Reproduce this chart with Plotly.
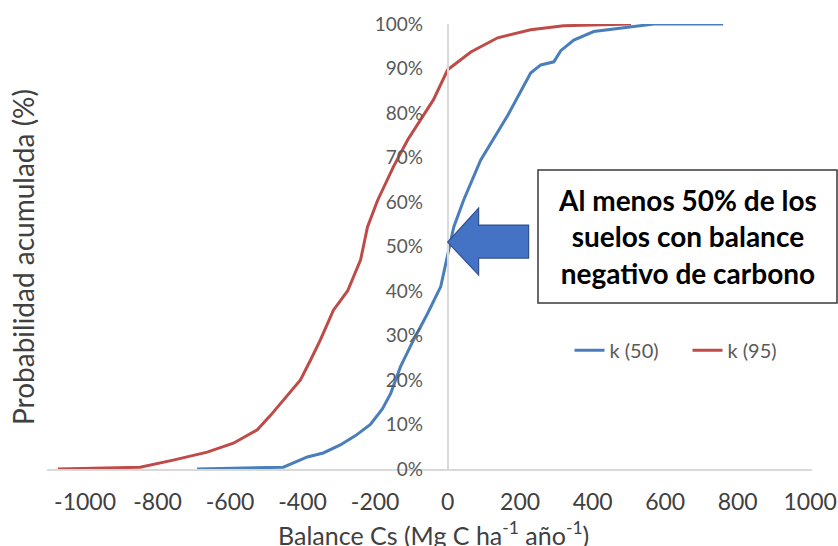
import plotly.graph_objects as go

# Cumulative probability curves of soil carbon balance (Mg C ha-1 año-1)
k50_balance = [-691, -453, -387, -343, -296, -254, -213, -180, -157, -130, -94,
               -55, -19, 0, 17, 44, 91, 166, 229, 257, 293, 312, 348, 403, 506, 569, 760]
k50_prob = [0, 0.4, 2.7, 3.6, 5.4, 7.5, 10, 13.5, 17, 23, 29,
            35, 41, 48.5, 54.4, 60.4, 69.4, 79.5, 89, 90.8, 91.5, 94, 96.4, 98.3, 99.4, 100, 100]

k95_balance = [-1075, -848, -757, -663, -591, -525, -489, -448, -406, -378, -351,
               -315, -276, -240, -221, -193, -149, -110, -75, -39, 0, 64, 138, 229, 320, 506]
k95_prob = [0, 0.4, 2, 3.8, 5.8, 8.8, 12, 16, 20, 24.5, 29,
            35.7, 40, 47, 54.4, 60.4, 68, 74, 78.4, 83, 89.7, 93.7, 96.9, 98.7, 99.6, 100]

x_ticks = list(range(-1000, 1001, 200))
x_tick_labels = [str(v) for v in x_ticks]
y_ticks = list(range(0, 101, 10))
y_tick_labels = [f"{v}%" for v in y_ticks]
x_range = [-1105, 1005]

FONT = "Lato"
BLUE = "#4a7ebb"
RED = "#be4b48"

fig = go.Figure()
fig.add_trace(go.Scatter(x=k50_balance, y=k50_prob, mode="lines", name="k (50)",
                         line=dict(color=BLUE, width=3)))
fig.add_trace(go.Scatter(x=k95_balance, y=k95_prob, mode="lines", name="k (95)",
                         line=dict(color=RED, width=3)))

# the value axis crosses the horizontal axis at x = 0
y_axis_pos = (0 - x_range[0]) / (x_range[1] - x_range[0])

fig.update_layout(
    width=838, height=546,
    margin=dict(l=47, r=26, t=24, b=77, autoexpand=False),
    paper_bgcolor="white", plot_bgcolor="white",
    font=dict(family=FONT, color="#404040"),
    showlegend=True,
    legend=dict(orientation="h", x=0.683, y=0.267, xanchor="left", yanchor="middle",
                font=dict(size=20, color="#595959"), bgcolor="rgba(0,0,0,0)",
                entrywidth=73, entrywidthmode="pixels"),
    xaxis=dict(range=x_range, tickmode="array", tickvals=x_ticks, ticktext=x_tick_labels,
               showgrid=False, zeroline=False, automargin=False,
               showline=True, linecolor="#d9d9d9", linewidth=1.5, ticks="",
               ticklabelstandoff=12,
               tickfont=dict(size=23, color="#404040")),
    yaxis=dict(range=[0, 100], tickmode="array", tickvals=y_ticks, ticktext=y_tick_labels,
               showgrid=False, zeroline=False, automargin=False,
               showline=True, linecolor="#d9d9d9", linewidth=1.5,
               anchor="free", position=y_axis_pos, side="left", ticks="",
               ticklabelstandoff=20,
               tickfont=dict(size=19, color="#595959")),
)

# axis titles
fig.add_annotation(text="Balance Cs (Mg C ha<sup>-1</sup> año<sup>-1</sup>)",
                   xref="paper", yref="paper", x=(433 - 47) / 765, y=(469 - 533) / 445,
                   xanchor="center", yanchor="middle", showarrow=False,
                   font=dict(family=FONT, size=25, color="#404040"))
fig.add_annotation(text="Probabilidad acumulada (%)", xref="paper", yref="paper",
                   x=0, y=(469 - 257) / 445, xanchor="center", yanchor="middle", xshift=-24,
                   textangle=-90, showarrow=False,
                   font=dict(family=FONT, size=28, color="#404040"))

# callout box
box_x0, box_x1 = (538 - 47) / 765, (837 - 47) / 765
box_y0, box_y1 = (469 - 303) / 445, (469 - 170) / 445
fig.add_shape(type="rect", xref="paper", yref="paper",
              x0=box_x0, x1=box_x1, y0=box_y0, y1=box_y1,
              line=dict(color="#3a3a3a", width=1.5), fillcolor="white", layer="above")
fig.add_annotation(text="<b>Al menos 50% de los<br>suelos con balance<br>negativo de carbono</b>",
                   xref="paper", yref="paper", x=(box_x0 + box_x1) / 2, y=(box_y0 + box_y1) / 2,
                   xanchor="center", yanchor="middle", showarrow=False, align="center",
                   font=dict(family=FONT, size=28, color="#000000"))

# block arrow pointing at the 50 % crossing on the zero line
arrow_path = "M 0 0 L 31 34 L 31 17 L 81 17 L 81 -16 L 31 -16 L 31 -33 Z"
fig.add_shape(type="path", xref="x", yref="y", xsizemode="pixel", ysizemode="pixel",
              xanchor=0, yanchor=51, path=arrow_path,
              fillcolor="#4472c4", line=dict(color="#2f528f", width=1.2), layer="above")

fig.write_html("out.html")
